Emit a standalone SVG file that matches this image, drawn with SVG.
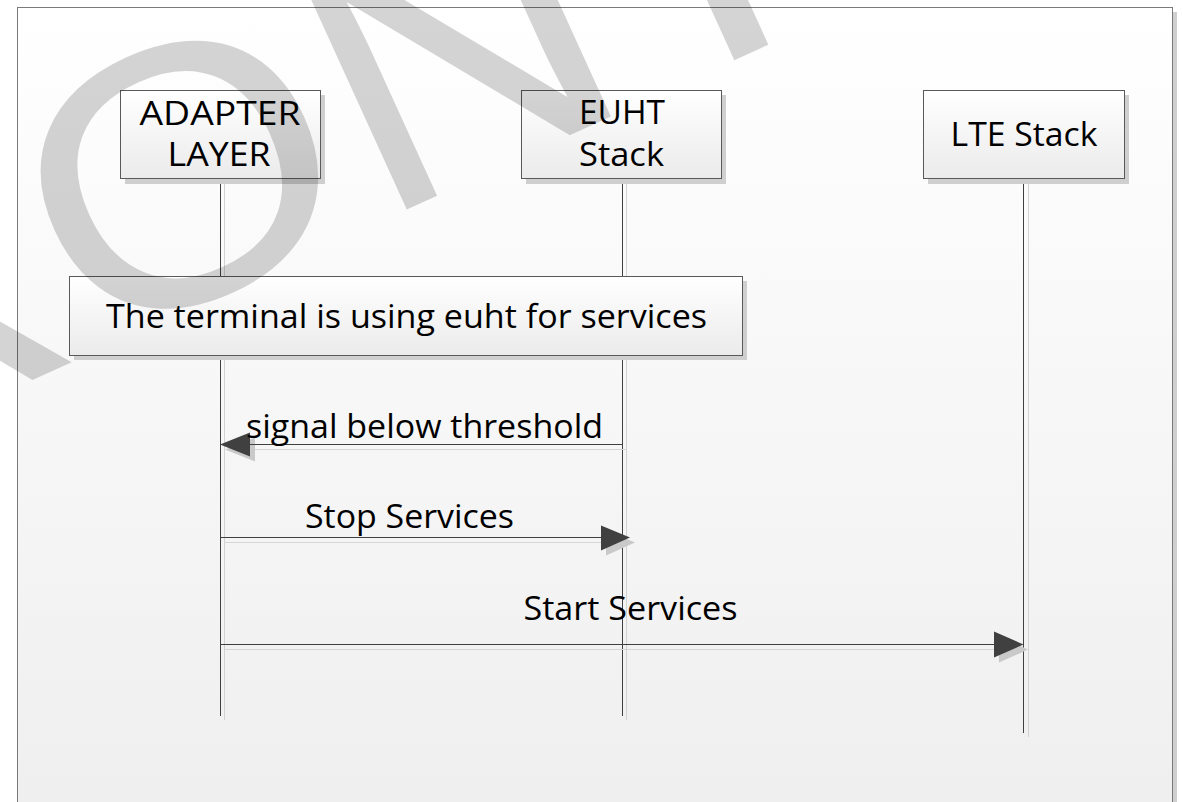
<svg xmlns="http://www.w3.org/2000/svg" width="1183" height="802" viewBox="0 0 1183 802">
<style>
.box{stroke:#595959;stroke-width:1;fill:url(#boxg)}
.shd{fill:#cfcfcf}
.life{stroke:#3f3f3f;stroke-width:1;fill:none}
.lifes{stroke:#d2d2d2;stroke-width:1;fill:none}
.msg{stroke:#404040;stroke-width:1;fill:none}
.msgs{stroke:#d6d6d6;stroke-width:1;fill:none}
.head{fill:#404040}
.heads{fill:#c9c9c9}
.t{font-family:"Open Sans","Noto Sans","Liberation Sans",sans-serif;font-size:32px;fill:#000}
.wm{font-family:"Liberation Sans",Arial,sans-serif;font-size:365px;fill:#000;fill-opacity:0.17}
</style>
<defs>
<linearGradient id="boxg" x1="0" y1="0" x2="0" y2="1">
<stop offset="0" stop-color="#ffffff"/>
<stop offset="1" stop-color="#ebebeb"/>
</linearGradient>
<linearGradient id="bgg" gradientUnits="userSpaceOnUse" x1="0" y1="7" x2="0" y2="802">
<stop offset="0" stop-color="#ffffff"/>
<stop offset="1" stop-color="#efefef"/>
</linearGradient>
</defs>
<rect width="1183" height="802" fill="#ffffff"/>
<g id="frame">
<rect x="22" y="12" width="1155" height="820" fill="#cfcfcf"/>
<rect x="17.5" y="7.5" width="1155" height="820" fill="url(#bgg)" stroke="#7a7a7a" stroke-width="1"/>
</g>
<g id="lifelines">
<line class="lifes" x1="224.5" y1="179" x2="224.5" y2="720"/>
<line class="life" x1="220.5" y1="179" x2="220.5" y2="716"/>
<line class="lifes" x1="626.5" y1="179" x2="626.5" y2="720"/>
<line class="life" x1="622.5" y1="179" x2="622.5" y2="716"/>
<line class="lifes" x1="1028.5" y1="179" x2="1028.5" y2="737"/>
<line class="life" x1="1023.5" y1="179" x2="1023.5" y2="733"/>
</g>
<g id="node-adapter">
<rect class="shd" x="125" y="95" width="200" height="89"/>
<rect class="box" x="120.5" y="90.5" width="200" height="88"/>
<text class="t" x="220" y="124.5" text-anchor="middle" textLength="161" lengthAdjust="spacingAndGlyphs">ADAPTER</text>
<text class="t" x="219" y="165.5" text-anchor="middle" textLength="103" lengthAdjust="spacingAndGlyphs">LAYER</text>
</g>
<g id="node-euht">
<rect class="shd" x="526" y="95" width="200" height="89"/>
<rect class="box" x="521.5" y="90.5" width="200" height="88"/>
<text class="t" x="622" y="124" text-anchor="middle" textLength="86" lengthAdjust="spacingAndGlyphs">EUHT</text>
<text class="t" x="621.5" y="165.5" text-anchor="middle" textLength="85" lengthAdjust="spacingAndGlyphs">Stack</text>
</g>
<g id="node-lte">
<rect class="shd" x="928" y="95" width="201" height="89"/>
<rect class="box" x="923.5" y="90.5" width="201" height="88"/>
<text class="t" x="1024" y="146" text-anchor="middle" textLength="147" lengthAdjust="spacingAndGlyphs">LTE Stack</text>
</g>
<g id="note-euht">
<rect class="shd" x="74" y="281" width="673" height="79"/>
<rect class="box" x="69.5" y="276.5" width="673" height="79"/>
<text class="t" x="406.5" y="327.5" text-anchor="middle" textLength="601" lengthAdjust="spacingAndGlyphs">The terminal is using euht for services</text>
</g>
<g id="connectors">
<line class="msgs" x1="255" y1="449.5" x2="627" y2="449.5"/>
<polygon class="heads" points="225,449.5 255,437.5 255,461.5"/>
<line class="msg" x1="248" y1="444.5" x2="622" y2="444.5"/>
<polygon class="head" points="220,444.5 250,432.5 250,456.5"/>
<text class="t" x="424.5" y="437.5" text-anchor="middle" textLength="357" lengthAdjust="spacingAndGlyphs">signal below threshold</text>

<line class="msgs" x1="225" y1="542.5" x2="606" y2="542.5"/>
<polygon class="heads" points="606,530.5 635,542.5 606,555.5"/>
<line class="msg" x1="220" y1="537.5" x2="603" y2="537.5"/>
<polygon class="head" points="601,525.5 630,537.5 601,550.5"/>
<text class="t" x="409.5" y="527.5" text-anchor="middle" textLength="209" lengthAdjust="spacingAndGlyphs">Stop Services</text>

<line class="msgs" x1="225" y1="649.5" x2="999" y2="649.5"/>
<polygon class="heads" points="999,636.5 1028,649.5 999,662.5"/>
<line class="msg" x1="220" y1="644.5" x2="996" y2="644.5"/>
<polygon class="head" points="994,631.5 1023.5,644.5 994,657.5"/>
<text class="t" x="630.5" y="620" text-anchor="middle" textLength="214" lengthAdjust="spacingAndGlyphs">Start Services</text>
</g>
<g id="watermark">
<text class="wm" transform="translate(59,368) rotate(-24.5) scale(1.1,1)" x="-234 31 317.5 641" y="0">RONI</text>
</g>
</svg>
